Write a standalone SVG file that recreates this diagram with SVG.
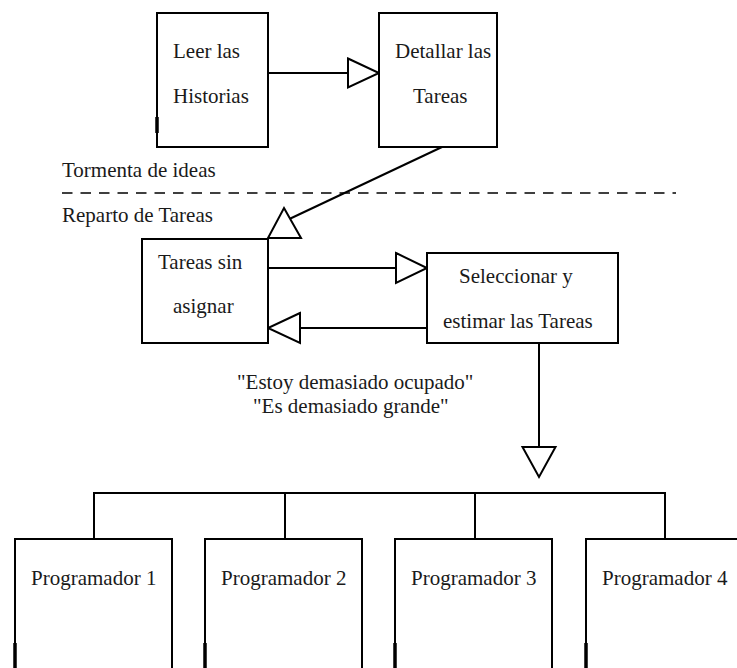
<svg xmlns="http://www.w3.org/2000/svg" width="737" height="668" viewBox="0 0 737 668">
<defs>
<style>
.box{fill:#fff;stroke:#000;stroke-width:2}
.ln{fill:none;stroke:#000;stroke-width:2}
.tri{fill:#fff;stroke:#000;stroke-width:2;stroke-linejoin:miter}
.mark{stroke:#000;stroke-width:3.5}
text{font-family:"Liberation Serif","Times New Roman",serif;font-size:21px;fill:#1a1a1a}
</style>
</defs>
<rect width="737" height="668" fill="#fff"/>
<g id="connectors">
<line class="ln" x1="268" y1="73" x2="348" y2="73"/>
<polygon class="tri" points="348,58.5 379,73 348,87.5"/>
<line class="ln" x1="442" y1="147" x2="283" y2="222"/>
<polygon class="tri" points="284,208 301,238 268,238"/>
<line class="ln" x1="268" y1="268" x2="396" y2="268"/>
<polygon class="tri" points="396,253 427,268 396,283"/>
<line class="ln" x1="427" y1="328" x2="300" y2="328"/>
<polygon class="tri" points="300,313 268,328 300,343"/>
<line class="ln" x1="539" y1="343" x2="539" y2="447"/>
<polygon class="tri" points="522.5,447 555.5,447 539,477"/>
<path class="ln" d="M94,539 V493 H665 V539 M285,493 V539 M475,493 V539"/>
</g>
<line id="separator" x1="62" y1="193" x2="676" y2="193" stroke="#000" stroke-width="1.5" stroke-dasharray="10.5 8"/>
<text x="62" y="177">Tormenta de ideas</text>
<text x="62" y="222">Reparto de Tareas</text>
<g id="leer">
<rect class="box" x="157" y="13" width="111" height="134"/>
<line class="mark" x1="157" y1="117" x2="157" y2="133"/>
<text x="173" y="58">Leer las</text>
<text x="173" y="103">Historias</text>
</g>
<g id="detallar">
<rect class="box" x="379" y="13" width="118" height="134"/>
<text x="395" y="58">Detallar las</text>
<text x="413" y="103">Tareas</text>
</g>
<g id="sin-asignar">
<rect class="box" x="142" y="239" width="126" height="104"/>
<text x="158" y="269">Tareas sin</text>
<text x="173" y="313">asignar</text>
</g>
<g id="seleccionar">
<rect class="box" x="427" y="253" width="191" height="90"/>
<text x="459" y="283">Seleccionar y</text>
<text x="443" y="328">estimar las Tareas</text>
</g>
<g id="quotes">
<text x="237" y="389">"Estoy demasiado ocupado"</text>
<text x="253" y="413">"Es demasiado grande"</text>
</g>
<g id="prog1">
<path class="ln" d="M15,670 V539 H172 V670"/>
<line class="mark" x1="15" y1="643" x2="15" y2="668"/>
<text x="31" y="585">Programador 1</text>
</g>
<g id="prog2">
<path class="ln" d="M205,670 V539 H362 V670"/>
<line class="mark" x1="205" y1="643" x2="205" y2="668"/>
<text x="221" y="585">Programador 2</text>
</g>
<g id="prog3">
<path class="ln" d="M395,670 V539 H552 V670"/>
<line class="mark" x1="395" y1="643" x2="395" y2="668"/>
<text x="411" y="585">Programador 3</text>
</g>
<g id="prog4">
<path class="ln" d="M586,670 V539 H745"/>
<line class="mark" x1="586" y1="643" x2="586" y2="668"/>
<text x="602" y="585">Programador 4</text>
</g>
</svg>
